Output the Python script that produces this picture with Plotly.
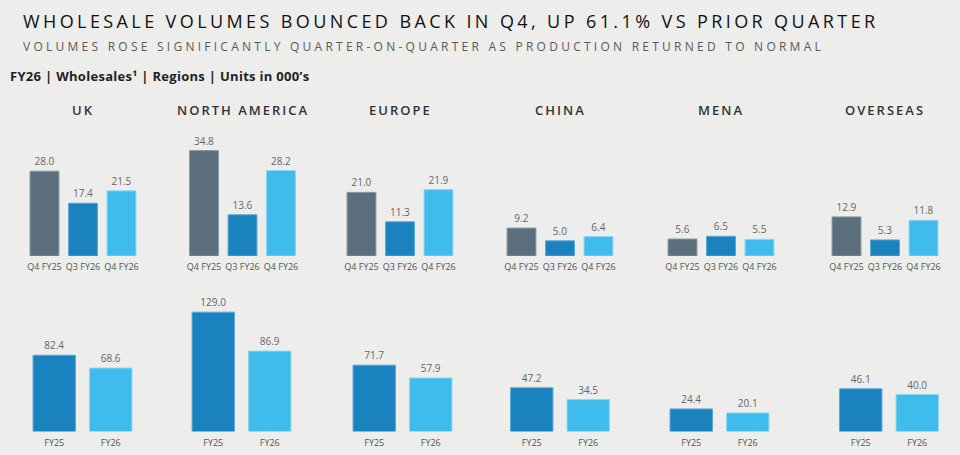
import plotly.graph_objects as go

# ---------------- data ----------------
regions = ["UK", "NORTH AMERICA", "EUROPE", "CHINA", "MENA", "OVERSEAS"]
quarter_labels = ["Q4 FY25", "Q3 FY26", "Q4 FY26"]
year_labels = ["FY25", "FY26"]

q4_fy25 = [28.0, 34.8, 21.0, 9.2, 5.6, 12.9]
q3_fy26 = [17.4, 13.6, 11.3, 5.0, 6.5, 5.3]
q4_fy26 = [21.5, 28.2, 21.9, 6.4, 5.5, 11.8]
fy25 = [82.4, 129.0, 71.7, 47.2, 24.4, 46.1]
fy26 = [68.6, 86.9, 57.9, 34.5, 20.1, 40.0]

title_text = "WHOLESALE VOLUMES BOUNCED BACK IN Q4, UP 61.1% VS PRIOR QUARTER"
subtitle_text = "VOLUMES ROSE SIGNIFICANTLY QUARTER-ON-QUARTER AS PRODUCTION RETURNED TO NORMAL"
header_text = "FY26 | Wholesales¹ | Regions | Units in 000’s"

# ---------------- layout / style ----------------
W, H = 960, 455
BG = "#ededeb"
C_DARK = "#5b6f7c"
C_MID = "#1a83bf"
C_LIGHT = "#40bcec"
L_DARK = "#8797a2"
L_MID = "#5aa6d6"
L_LIGHT = "#8dd5f3"

top_centers = [83, 242.5, 400, 560, 721, 885]
bot_centers = [82.5, 241.5, 402.5, 560, 719.5, 889]
top_half = 57.75
bot_half = 56.5

def py(px):
    return 1 - px / H

top_dom = [py(256), py(140)]
top_range = [0, 116 / 3.03]
bot_dom = [py(431.5), py(300)]
bot_range = [0, 131.5 / 0.925]

FONT = "Open Sans"
label_font = dict(family=FONT, size=10, color="#666666")
tick_font = dict(family=FONT, size=9, color="#555555")

fig = go.Figure()
layout = dict(
    width=W, height=H,
    margin=dict(l=0, r=0, t=0, b=0),
    paper_bgcolor=BG, plot_bgcolor=BG,
    showlegend=False,
    bargap=0.25,
    annotations=[],
)

for i, reg in enumerate(regions):
    xt = 2 * i + 1
    xb = 2 * i + 2
    tname = "" if xt == 1 else str(xt)
    bname = str(xb)
    # top row (quarters)
    qvals = [q4_fy25[i], q3_fy26[i], q4_fy26[i]]
    fig.add_trace(go.Bar(
        x=quarter_labels, y=qvals,
        xaxis="x" + tname, yaxis="y" + tname,
        marker=dict(color=[C_DARK, C_MID, C_LIGHT],
                    line=dict(color=[L_DARK, L_MID, L_LIGHT], width=1)),
        text=[f"{v:.1f}" for v in qvals], textposition="outside",
        textfont=label_font, cliponaxis=False, hoverinfo="skip",
    ))
    # bottom row (full year)
    yvals = [fy25[i], fy26[i]]
    fig.add_trace(go.Bar(
        x=year_labels, y=yvals,
        xaxis="x" + bname, yaxis="y" + bname,
        marker=dict(color=[C_MID, C_LIGHT],
                    line=dict(color=[L_MID, L_LIGHT], width=1)),
        text=[f"{v:.1f}" for v in yvals], textposition="outside",
        textfont=label_font, cliponaxis=False, hoverinfo="skip",
    ))
    c = top_centers[i]
    layout["xaxis" + tname] = dict(
        domain=[(c - top_half) / W, (c + top_half) / W], anchor="y" + tname,
        showgrid=False, zeroline=False, showline=False, ticks="",
        tickangle=0, tickfont=tick_font, ticklabelstandoff=4, fixedrange=True)
    layout["yaxis" + tname] = dict(
        domain=top_dom, anchor="x" + tname, range=top_range,
        visible=False, fixedrange=True)
    cb = bot_centers[i]
    layout["xaxis" + bname] = dict(
        domain=[(cb - bot_half) / W, (cb + bot_half) / W], anchor="y" + bname,
        showgrid=False, zeroline=False, showline=False, ticks="",
        tickangle=0, tickfont=tick_font, ticklabelstandoff=4, fixedrange=True)
    layout["yaxis" + bname] = dict(
        domain=bot_dom, anchor="x" + bname, range=bot_range,
        visible=False, fixedrange=True)
    layout["annotations"].append(dict(
        text=f'<span style="letter-spacing:2px">{reg}</span>',
        x=c / W, y=py(110), xref="paper", yref="paper",
        xanchor="center", yanchor="middle", showarrow=False,
        font=dict(family=FONT, size=13, color="#333333", weight=600)))

layout["annotations"].append(dict(
    text=f'<span style="letter-spacing:3.4px">{title_text}</span>',
    x=21 / W, y=py(21), xref="paper", yref="paper",
    xanchor="left", yanchor="middle", showarrow=False,
    font=dict(family=FONT, size=18, color="#111111", weight=500)))
layout["annotations"].append(dict(
    text=f'<span style="letter-spacing:3.25px">{subtitle_text}</span>',
    x=21 / W, y=py(47), xref="paper", yref="paper",
    xanchor="left", yanchor="middle", showarrow=False,
    font=dict(family=FONT, size=12, color="#5a5a5a")))
layout["annotations"].append(dict(
    text=f'<b><span style="letter-spacing:0.3px">{header_text}</span></b>',
    x=8 / W, y=py(76), xref="paper", yref="paper",
    xanchor="left", yanchor="middle", showarrow=False,
    font=dict(family=FONT, size=13, color="#222222")))

fig.update_layout(**layout)
fig.write_html("out.html")
